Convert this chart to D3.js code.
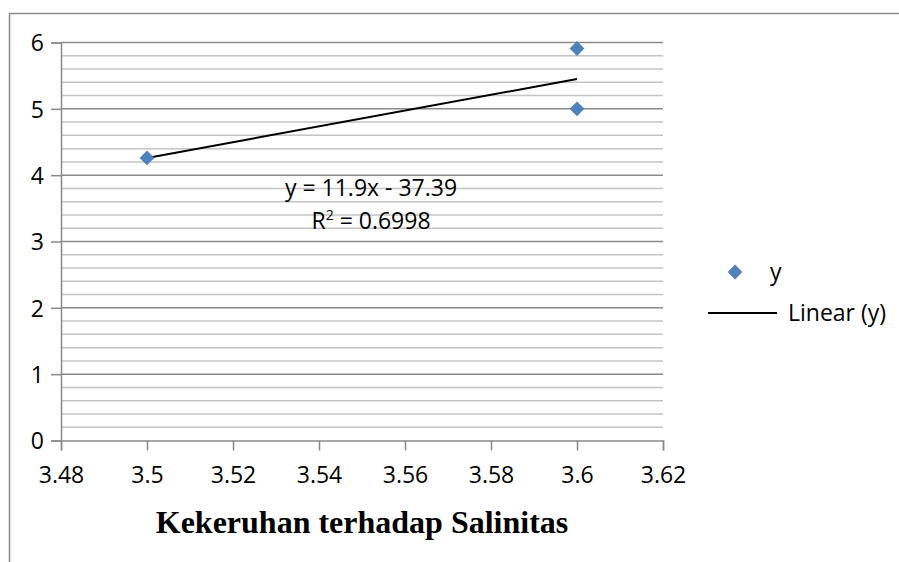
<!DOCTYPE html>
<html><head><meta charset="utf-8">
<script src="https://cdn.jsdelivr.net/npm/d3@7"></script>
<style>body{margin:0;background:#fff}svg{display:block}</style>
</head><body>
<script>
const xValues = [3.5, 3.6, 3.6];
const yValues = [4.26, 5.91, 5.0];
const xTicks = [3.48, 3.5, 3.52, 3.54, 3.56, 3.58, 3.6, 3.62];
const yTicks = [0, 1, 2, 3, 4, 5, 6];
const trendSlope = 11.9, trendIntercept = -37.39;
const eqLabel = "y = 11.9x - 37.39";
const r2Label = "0.6998";
const title = "Kekeruhan terhadap Salinitas";
const legendNames = ["y", "Linear (y)"];

const W = 899, H = 562;
const svg = d3.select("body").append("svg").attr("width", W).attr("height", H);
const font = "'Open Sans', 'Liberation Sans', sans-serif";
const fs = 23;

// outer border
svg.append("rect").attr("x", 9.5).attr("y", 13.5).attr("width", 900).attr("height", 560)
  .attr("fill", "none").attr("stroke", "#8c8c8c").attr("stroke-width", 1.5);

const x = d3.scaleLinear().domain([3.48, 3.62]).range([61, 663]);
const y = d3.scaleLinear().domain([0, 6]).range([440.5, 42.5]);

// minor grid
const minor = d3.range(0, 6.0001, 0.2).filter(v => Math.abs(v - Math.round(v)) > 1e-6);
svg.append("g").selectAll("line").data(minor).join("line")
  .attr("x1", x(3.48)).attr("x2", x(3.62))
  .attr("y1", d => y(d)).attr("y2", d => y(d))
  .attr("stroke", "#c4c4c4").attr("stroke-width", 1.5);
// major grid
svg.append("g").selectAll("line").data(yTicks.filter(d => d > 0)).join("line")
  .attr("x1", x(3.48)).attr("x2", x(3.62))
  .attr("y1", d => y(d)).attr("y2", d => y(d))
  .attr("stroke", "#8a8a8a").attr("stroke-width", 1.5);

// axes
const xAxis = svg.append("g").attr("transform", `translate(0,${y(0)})`)
  .call(d3.axisBottom(x).tickValues(xTicks).tickSize(10).tickFormat(d => String(+d.toFixed(2))));
const yAxis = svg.append("g").attr("transform", `translate(${x(3.48)},0)`)
  .call(d3.axisLeft(y).tickValues(yTicks).tickSize(10).tickFormat(d3.format("d")));
[xAxis, yAxis].forEach(g => {
  g.attr("font-size", null).attr("font-family", null);
  g.select(".domain").attr("stroke", "#8a8a8a").attr("stroke-width", 1.5);
  g.selectAll(".tick line").attr("stroke", "#8a8a8a").attr("stroke-width", 1.5);
  g.selectAll("text").attr("font-family", font).attr("font-size", fs).attr("fill", "#000");
});
xAxis.selectAll("text").attr("dy", "0").attr("y", 42);
yAxis.selectAll("text").attr("x", -17).attr("dy", "0.36em");

// trendline
const tx = [d3.min(xValues), d3.max(xValues)];
svg.append("line")
  .attr("x1", x(tx[0])).attr("y1", y(trendSlope * tx[0] + trendIntercept))
  .attr("x2", x(tx[1])).attr("y2", y(trendSlope * tx[1] + trendIntercept))
  .attr("stroke", "#000").attr("stroke-width", 2);

// points
const diamond = d3.symbol().type(d3.symbolDiamond2).size(140);
svg.append("g").selectAll("path").data(xValues.map((v, i) => [v, yValues[i]])).join("path")
  .attr("d", diamond).attr("transform", d => `translate(${x(d[0])},${y(d[1])})`)
  .attr("fill", "#4f81bd");

// equation
svg.append("text").attr("x", 371).attr("y", 196).attr("text-anchor", "middle")
  .attr("font-family", font).attr("font-size", fs).text(eqLabel);
const r2 = svg.append("text").attr("x", 371).attr("y", 229).attr("text-anchor", "middle")
  .attr("font-family", font).attr("font-size", fs);
r2.append("tspan").text("R");
r2.append("tspan").attr("font-size", 14).attr("dy", -9).text("2");
r2.append("tspan").attr("dy", 9).text(" = " + r2Label);

// legend
svg.append("path").attr("d", diamond).attr("transform", "translate(735,272)").attr("fill", "#4f81bd");
svg.append("text").attr("x", 770).attr("y", 280).attr("font-family", font).attr("font-size", fs).text(legendNames[0]);
svg.append("line").attr("x1", 708).attr("x2", 777).attr("y1", 313).attr("y2", 313).attr("stroke", "#000").attr("stroke-width", 2);
svg.append("text").attr("x", 788).attr("y", 321).attr("font-family", font).attr("font-size", fs).text(legendNames[1]);

// title
svg.append("text").attr("x", 362).attr("y", 533).attr("text-anchor", "middle")
  .attr("font-family", "'Liberation Serif', 'Times New Roman', serif").attr("font-weight", "bold")
  .attr("font-size", 32).text(title);
</script>
</body></html>
